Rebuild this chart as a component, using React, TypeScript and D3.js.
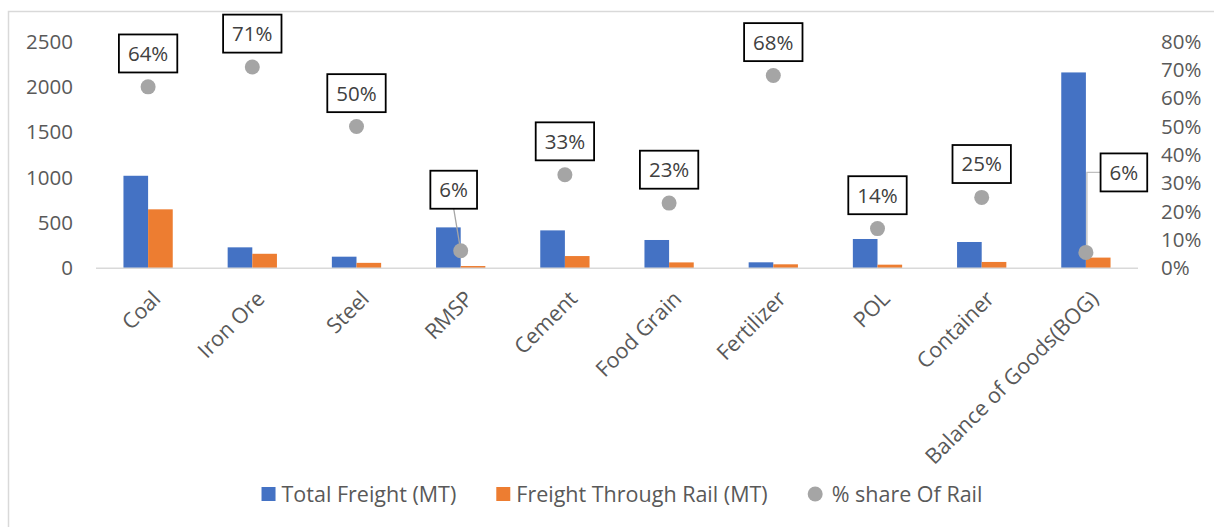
import React, { useEffect, useRef } from "react";
import * as d3 from "d3";

// chart data
const categories = [
	"Coal",
	"Iron Ore",
	"Steel",
	"RMSP",
	"Cement",
	"Food Grain",
	"Fertilizer",
	"POL",
	"Container",
	"Balance of Goods(BOG)",
];
const totalFreight = [1020, 231, 128, 451, 418, 312, 66, 323, 290, 2159];
const railFreight = [650, 160, 60, 25, 135, 65, 44, 40, 70, 118];
const railShare = [0.64, 0.71, 0.5, 0.062, 0.33, 0.23, 0.68, 0.14, 0.25, 0.056];
const leftTicks = [0, 500, 1000, 1500, 2000, 2500];
const rightTicks = [0, 0.1, 0.2, 0.3, 0.4, 0.5, 0.6, 0.7, 0.8];
const seriesNames = ["Total Freight (MT)", "Freight Through Rail (MT)", "% share Of Rail"];

const W = 1214;
const H = 527;
const FONT = "'Open Sans', sans-serif";
const colors = ["#4472c4", "#ed7d31", "#a5a5a5"];

// manually moved labels (offset of box centre from the point), others sit above
const movedLabels: Record<string, { dx: number; dy: number; elbow?: boolean }> = {
	RMSP: { dx: -7, dy: -61 },
	"Balance of Goods(BOG)": { dx: 38, dy: -80, elbow: true },
};

export default function App() {
	const svgRef = useRef<SVGSVGElement | null>(null);

	useEffect(() => {
		if (!svgRef.current) return;
		const svg = d3.select(svgRef.current);
		svg.selectAll("*").remove();

		const margin = { top: 41.5, right: 76, bottom: 258.7, left: 96 };
		const x0 = margin.left;
		const x1 = W - margin.right;
		const yTop = margin.top;
		const yBot = H - margin.bottom;

		// frame
		svg
			.append("rect")
			.attr("x", 8.5)
			.attr("y", 11.5)
			.attr("width", W + 20)
			.attr("height", H + 20)
			.attr("fill", "#fff")
			.attr("stroke", "#d9d9d9")
			.attr("stroke-width", 1.5);

		const xScale = d3
			.scaleBand()
			.domain(categories)
			.range([x0, x1])
			.paddingInner(0.527)
			.paddingOuter(0.2635);
		const xSub = d3
			.scaleBand()
			.domain(["total", "rail"])
			.range([0, xScale.bandwidth()]);
		const yLeft = d3.scaleLinear().domain([0, 2500]).range([yBot, yTop]);
		const yRight = d3.scaleLinear().domain([0, 0.8]).range([yBot, yTop]);
		const cx = (c: string) => (xScale(c) || 0) + xScale.bandwidth() / 2;

		// axes
		const left = svg
			.append("g")
			.attr("transform", `translate(${x0},0)`)
			.call(
				d3
					.axisLeft(yLeft)
					.tickValues(leftTicks)
					.tickSize(0)
					.tickPadding(23)
					.tickFormat(d3.format("d"))
			);
		const right = svg
			.append("g")
			.attr("transform", `translate(${x1},0)`)
			.call(
				d3
					.axisRight(yRight)
					.tickValues(rightTicks)
					.tickSize(0)
					.tickPadding(23)
					.tickFormat((d) => `${Math.round(+d * 100)}%`)
			);
		[left, right].forEach((g) => {
			g.select(".domain").remove();
			g.attr("font-family", FONT).attr("font-size", 20.5);
			g.selectAll("text").attr("fill", "#595959");
		});

		// bars
		const bars = svg.append("g");
		categories.forEach((c, i) => {
			bars
				.append("rect")
				.attr("x", (xScale(c) || 0) + (xSub("total") || 0))
				.attr("y", yLeft(totalFreight[i]))
				.attr("width", xSub.bandwidth())
				.attr("height", yBot - yLeft(totalFreight[i]))
				.attr("fill", colors[0]);
			bars
				.append("rect")
				.attr("x", (xScale(c) || 0) + (xSub("rail") || 0))
				.attr("y", yLeft(railFreight[i]))
				.attr("width", xSub.bandwidth())
				.attr("height", yBot - yLeft(railFreight[i]))
				.attr("fill", colors[1]);
		});

		// baseline
		svg
			.append("line")
			.attr("x1", x0)
			.attr("x2", x1)
			.attr("y1", yBot)
			.attr("y2", yBot)
			.attr("stroke", "#d9d9d9")
			.attr("stroke-width", 1.5);

		// category labels, rotated
		svg
			.append("g")
			.selectAll("text")
			.data(categories)
			.enter()
			.append("text")
			.attr("transform", (c) => `translate(${cx(c) + 3},${yBot + 21}) rotate(-45)`)
			.attr("text-anchor", "end")
			.attr("dy", "0.71em")
			.attr("font-family", FONT)
			.attr("font-size", 21.5)
			.attr("fill", "#595959")
			.text((c) => c);

		// leader lines for moved labels
		const leaders = svg.append("g");
		categories.forEach((c, i) => {
			const m = movedLabels[c];
			if (!m) return;
			const px = cx(c);
			const py = yRight(railShare[i]);
			if (m.elbow) {
				leaders
					.append("path")
					.attr("d", `M${px + m.dx - 23},${py + m.dy}H${px + 1}V${py}`)
					.attr("fill", "none")
					.attr("stroke", "#bfbfbf")
					.attr("stroke-width", 1.3);
			} else {
				leaders
					.append("line")
					.attr("x1", px + m.dx)
					.attr("y1", py + m.dy + 19)
					.attr("x2", px)
					.attr("y2", py)
					.attr("stroke", "#a6a6a6")
					.attr("stroke-width", 1.3);
			}
		});

		// share points
		svg
			.append("g")
			.selectAll("circle")
			.data(categories)
			.enter()
			.append("circle")
			.attr("cx", (c) => cx(c))
			.attr("cy", (_c, i) => yRight(railShare[i]))
			.attr("r", 7.5)
			.attr("fill", colors[2]);

		// data labels in boxes
		const labels = svg.append("g");
		categories.forEach((c, i) => {
			const m = movedLabels[c] || { dx: 0, dy: -33.4 };
			const lx = cx(c) + m.dx;
			const ly = yRight(railShare[i]) + m.dy;
			const g = labels.append("g").attr("transform", `translate(${lx},${ly})`);
			const rect = g.append("rect").attr("fill", "#fff").attr("stroke", "#000").attr("stroke-width", 1.8);
			const t = g
				.append("text")
				.attr("text-anchor", "middle")
				.attr("dy", "0.36em")
				.attr("font-family", FONT)
				.attr("font-size", 20.5)
				.attr("fill", "#404040")
				.text(`${Math.round(railShare[i] * 100)}%`);
			const tw = (t.node() as SVGTextElement).getComputedTextLength();
			const bw = tw + 18;
			rect.attr("x", -bw / 2).attr("y", -19).attr("width", bw).attr("height", 38);
		});

		// legend
		const legend = svg.append("g");
		const items = seriesNames.map((name, i) => {
			const g = legend.append("g");
			if (i < 2) {
				g.append("rect").attr("x", 0).attr("y", -7).attr("width", 14).attr("height", 14).attr("fill", colors[i]);
			} else {
				g.append("circle").attr("cx", 7.5).attr("cy", 0).attr("r", 7.5).attr("fill", colors[i]);
			}
			const t = g
				.append("text")
				.attr("x", i < 2 ? 20 : 24)
				.attr("dy", "0.35em")
				.attr("font-family", FONT)
				.attr("font-size", 21.5)
				.attr("fill", "#595959")
				.text(name);
			const w = (i < 2 ? 20 : 24) + (t.node() as SVGTextElement).getComputedTextLength();
			return { g, w };
		});
		const gap = 40;
		const total = d3.sum(items, (d) => d.w) + gap * (items.length - 1);
		let lxPos = 622 - total / 2;
		items.forEach((it) => {
			it.g.attr("transform", `translate(${lxPos},494)`);
			lxPos += it.w + gap;
		});
	}, []);

	return (
		<svg
			ref={svgRef}
			width={W}
			height={H}
			style={{ position: "absolute", left: 0, top: 0, background: "#fff" }}
		></svg>
	);
}
